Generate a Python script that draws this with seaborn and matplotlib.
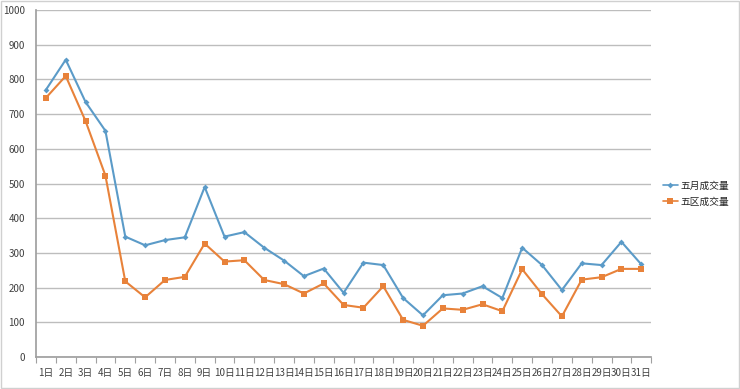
import matplotlib.pyplot as plt
import seaborn as sns
import numpy as np
import pandas as pd

days = [f'{i}日' for i in range(1, 32)]
may_volume = [770, 857, 735, 652, 347, 322, 337, 345, 490, 347, 360, 315, 278, 233, 255, 185,
              272, 265, 170, 120, 178, 183, 204, 170, 315, 265, 193, 270, 265, 332, 267]
zone5_volume = [747, 810, 680, 523, 218, 172, 222, 231, 327, 275, 279, 222, 210, 183, 212, 150,
                142, 204, 107, 90, 140, 136, 152, 132, 253, 181, 117, 223, 230, 254, 254]
series_names = ['五月成交量', '五区成交量']

sns.set_theme(style='white')
plt.rcParams['font.family'] = ['Noto Sans CJK SC', 'DejaVu Sans']
plt.rcParams['axes.unicode_minus'] = False

df = pd.DataFrame({
    'day': list(range(len(days))) * 2,
    'value': may_volume + zone5_volume,
    'series': [series_names[0]] * len(days) + [series_names[1]] * len(days),
})

fig = plt.figure(figsize=(7.4, 3.89), dpi=100)
ax = fig.add_axes([0.0486, 0.0823, 0.8314, 0.8917])

palette = {series_names[0]: '#5b9bc8', series_names[1]: '#e8823a'}
sns.lineplot(data=df, x='day', y='value', hue='series', style='series',
             palette=palette, markers={series_names[0]: 'D', series_names[1]: 's'},
             dashes=False, linewidth=1.5, ax=ax)
for line, ms in zip(ax.lines[:2], [3, 5]):
    line.set_markersize(ms)
    line.set_markeredgewidth(0)

ax.set_xlim(-0.5, len(days) - 0.5)
ax.set_ylim(0, 1000)
ax.set_yticks(np.arange(0, 1001, 100))
ax.set_xticks(range(len(days)))
ax.set_xticklabels(days)
ax.set_xticks(np.arange(-0.5, len(days), 1), minor=True)
ax.tick_params(axis='x', which='major', length=0, labelsize=7, pad=8, colors='#404040')
ax.tick_params(axis='x', which='minor', length=4, color='#a0a0a0', width=0.8, bottom=True)
ax.tick_params(axis='y', length=0, labelsize=7, colors='#404040', pad=8)
ax.yaxis.grid(True, color='#bdbdbd', linewidth=1)
ax.set_axisbelow(True)
for s in ['top', 'right']:
    ax.spines[s].set_visible(False)
ax.spines['left'].set_color('#a0a0a0')
ax.spines['bottom'].set_color('#a0a0a0')
ax.set_xlabel('')
ax.set_ylabel('')

leg = ax.legend(loc='center left', bbox_to_anchor=(0.896, 0.502),
                bbox_transform=fig.transFigure, frameon=False, borderpad=0,
                borderaxespad=0, fontsize=7, handlelength=1.5, handletextpad=0.3,
                labelspacing=0.6)
for h in leg.legend_handles:
    h.set_markeredgewidth(0)
    h.set_linewidth(1.2)
leg.legend_handles[0].set_markersize(3)
leg.legend_handles[1].set_markersize(4)

fig.patches.append(plt.Rectangle((0.002, 0.003), 0.996, 0.994, transform=fig.transFigure,
                                 fill=False, edgecolor='#d0d0d0', linewidth=1))

fig.savefig('out.png', dpi=100)
